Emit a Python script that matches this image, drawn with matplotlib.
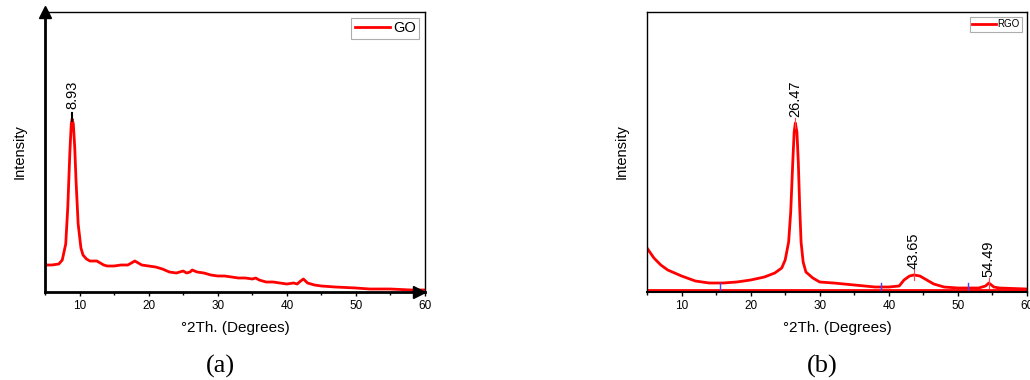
import matplotlib
matplotlib.use("Agg")
import matplotlib.pyplot as plt

# ---- data ----
go_x = [5.0, 6.0, 7.0, 7.5, 8.0, 8.3, 8.6, 8.8, 8.93, 9.1, 9.3, 9.5, 9.8, 10.2, 10.5, 11.0, 11.5, 12.0,
        12.5, 13.0, 13.5, 14.0, 15.0, 16.0, 17.0, 17.5, 18.0, 18.5, 19.0, 20.0, 21.0, 21.5,
        22.0, 23.0, 24.0, 24.5, 25.0, 25.5, 26.0, 26.3, 27.0, 28.0, 29.0, 30.0, 31.0, 32.0,
        33.0, 34.0, 35.0, 35.5, 36.0, 37.0, 38.0, 39.0, 40.0, 41.0, 41.5, 42.0, 42.4, 43.0,
        44.0, 45.0, 47.0, 50.0, 52.0, 55.0, 58.0, 60.0]
go_y = [27, 27, 28, 32, 48, 85, 140, 168, 173, 168, 145, 110, 68, 44, 37, 33, 31, 31,
        31, 29, 27, 26, 26, 27, 27, 29, 31, 29, 27, 26, 25, 24,
        23, 20, 19, 20, 21, 19, 20, 22, 20, 19, 17, 16, 16, 15,
        14, 14, 13, 14, 12, 10, 10, 9, 8, 9, 8, 11, 13, 9,
        7, 6, 5, 4, 3, 3, 2, 2]

rgo_x = [5.0, 6.0, 7.0, 8.0, 10.0, 12.0, 14.0, 16.0, 18.0, 20.0, 22.0, 23.5, 24.5, 25.0,
         25.5, 25.8, 26.1, 26.3, 26.47, 26.7, 26.9, 27.1, 27.3, 27.6, 28.0, 29.0, 30.0,
         32.0, 35.0, 38.0, 40.0, 41.5, 42.2, 43.0, 43.65, 44.5, 45.5, 46.5, 48.0, 50.0,
         53.0, 54.0, 54.49, 55.2, 56.0, 60.0]
rgo_y = [44, 34, 27, 22, 16, 11, 9, 9, 10, 12, 15, 19, 24, 32,
         50, 80, 130, 160, 169, 160, 130, 85, 50, 30, 20, 14, 10,
         9, 7, 5, 5, 6, 12, 16, 17, 16, 12, 8, 5, 4,
         4, 6, 9, 5, 4, 3]

go_peaks = [8.93]
go_peak_h = [173]
rgo_peaks = [26.47, 43.65, 54.49]
rgo_peak_h = [169, 17, 9]
rgo_anchors = [15.5, 38.8, 51.4]

xticks = [10, 20, 30, 40, 50, 60]

plt.rcParams['font.family'] = ['Liberation Sans', 'DejaVu Sans']

fig = plt.figure(figsize=(10.3, 3.8), dpi=100)
axA = fig.add_axes([45/1030, 88/380, 380/1030, 280/380])
axB = fig.add_axes([647/1030, 88/380, 380/1030, 280/380])

for ax in (axA, axB):
    ax.set_xlim(5, 60)
    ax.set_ylim(0, 280)
    ax.set_yticks([])
    ax.set_xticks(xticks)
    ax.set_xticks(range(5, 61, 5), minor=True)
    ax.tick_params(axis='x', which='major', direction='out', length=3, width=1, labelsize=8.5, pad=3)
    ax.tick_params(axis='x', which='minor', direction='out', length=2, width=1)
    ax.set_ylabel('Intensity', fontsize=10.5, labelpad=13)
    ax.set_xlabel('°2Th. (Degrees)', fontsize=11, labelpad=6)
    for s in ax.spines.values():
        s.set_color('black')

# ---- panel a ----
axA.spines['left'].set_linewidth(2)
axA.spines['bottom'].set_linewidth(2)
axA.spines['top'].set_linewidth(1)
axA.spines['right'].set_linewidth(1)
axA.plot(go_x, go_y, color='#ff0000', lw=2, label='GO')
axA.plot([0], [1.0], marker='^', color='black', ms=9, transform=axA.transAxes, clip_on=False)
axA.plot([0.985], [0], marker='>', color='black', ms=9, transform=axA.transAxes, clip_on=False)
for p, h in zip(go_peaks, go_peak_h):
    axA.plot([p, p], [h - 2, h + 6], color='black', lw=1.5)
    axA.text(p, h + 10, f'{p:.2f}', rotation=90, ha='center', va='bottom', fontsize=10.5)
legA = axA.legend(loc='upper right', fontsize=10.5, frameon=True, fancybox=False,
                  edgecolor='#999999', handlelength=2.4, handletextpad=0.2,
                  borderpad=0.25, borderaxespad=0.4)
legA.get_frame().set_linewidth(0.8)

# ---- panel b ----
for s in axB.spines.values():
    s.set_linewidth(1)
axB.spines['bottom'].set_linewidth(1.5)
axB.axhline(2, color='#ff0000', lw=2)
axB.plot(rgo_x, rgo_y, color='#ff0000', lw=2, label='RGO')
for a in rgo_anchors:
    axB.plot([a, a], [0, 9], color='#4444ff', lw=1)
for p, h in zip(rgo_peaks, rgo_peak_h):
    axB.plot([p, p], [h - 5, h + 5], color='#ff4444', lw=0.8)
    axB.text(p, h + 6, f'{p:.2f}', rotation=90, ha='center', va='bottom', fontsize=10.5)
legB = axB.legend(loc='upper right', fontsize=7, frameon=True, fancybox=False,
                  edgecolor='#999999', handlelength=2.5, handletextpad=0.1,
                  borderpad=0.25, borderaxespad=0.5)
legB.get_frame().set_linewidth(0.8)

fig.text(220/1030, 1 - 366/380, '(a)', fontsize=19, family='Liberation Serif', ha='center', va='center')
fig.text(822/1030, 1 - 366/380, '(b)', fontsize=19, family='Liberation Serif', ha='center', va='center')

fig.savefig('out.png', dpi=100)
